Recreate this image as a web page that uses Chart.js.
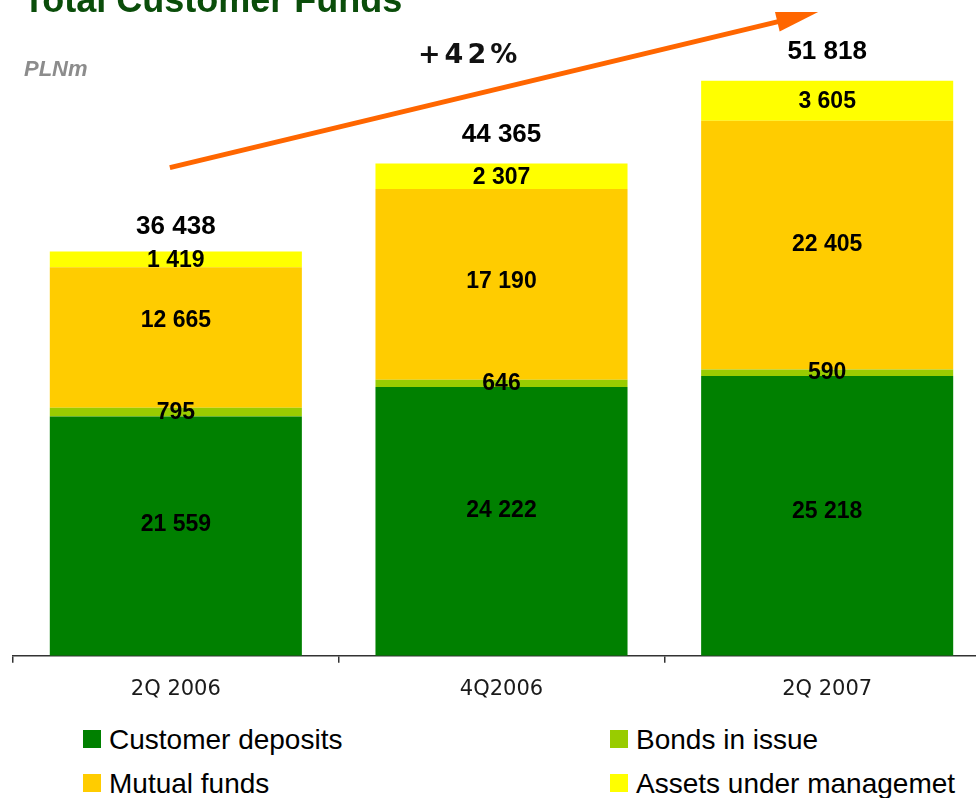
<!DOCTYPE html>
<html lang="en">
<head>
  <meta charset="UTF-8">
  <title>Total Customer Funds</title>
  <style>
    html, body {
      margin: 0;
      padding: 0;
      background: #fff;
      overflow: hidden;
      font-family: 'Liberation Sans', Arial, sans-serif;
    }
    .title {
      position: absolute;
      left: 23px;
      top: -18px;
      font-size: 36px;
      line-height: 1;
      font-weight: bold;
      color: #0a4d0a;
      white-space: nowrap;
    }
    .unit {
      position: absolute;
      left: 24px;
      top: 58px;
      font-size: 22px;
      line-height: 1;
      font-weight: bold;
      font-style: italic;
      color: #8c8c8c;
    }
    .growth {
      position: absolute;
      left: 418px;
      top: 40px;
      font-family: 'DejaVu Sans', Verdana, sans-serif;
      font-size: 27px;
      font-weight: bold;
      line-height: 1;
      letter-spacing: 4px;
      color: #111;
    }
    .chart-wrap {
      position: absolute;
      left: 0;
      top: 0;
      width: 1004px;
      height: 720px;
    }
    .legend-item {
      position: absolute;
      font-size: 28px;
      line-height: 1;
      color: #000;
      white-space: nowrap;
    }
    .legend-item span {
      position: absolute;
      width: 18px;
      height: 18px;
      left: -26px;
      top: 4px;
    }
  </style>
  <script src="https://cdn.jsdelivr.net/npm/chart.js"></script>
</head>
<body>
  <div class="chart-wrap"><canvas id="fundsChart"></canvas></div>
  <div class="title">Total Customer Funds</div>
  <div class="unit">PLNm</div>
  <div class="growth">+42%</div>
  <div id="legend"></div>

<script>
// data
const categories = ['2Q 2006', '4Q2006', '2Q 2007'];
const customerDeposits = [21559, 24222, 25218];
const bondsInIssue = [795, 646, 590];
const mutualFunds = [12665, 17190, 22405];
const assetsUnderMgmt = [1419, 2307, 3605];
const totals = [36438, 44365, 51818];

const seriesNames = ['Customer deposits', 'Bonds in issue', 'Mutual funds', 'Assets under managemet'];
const seriesColors = ['#008000', '#99cc00', '#ffcc00', '#ffff00'];

// labels in the original slide were nudged by hand a bit (px)
const labelNudge = [[-13, -12, -5], [-1, -1, -1], [-18, -4, -1], [0, 0, 0]];
const totalNudge = [4, 0, 0];

// legend in html, 2 columns
const legendPos = [[109, 726], [636, 726], [109, 770], [636, 770]];
const legendEl = document.getElementById('legend');
seriesNames.forEach((name, i) => {
  const d = document.createElement('div');
  d.className = 'legend-item';
  d.style.left = legendPos[i][0] + 'px';
  d.style.top = legendPos[i][1] + 'px';
  d.innerHTML = '<span style="background:' + seriesColors[i] + '"></span>' + name;
  legendEl.appendChild(d);
});

const fmt = v => String(v).replace(/\B(?=(\d{3})+(?!\d))/g, ' ');

const valueLabels = {
  id: 'valueLabels',
  afterDatasetsDraw(chart) {
    const ctx = chart.ctx;
    ctx.save();
    ctx.fillStyle = '#000';
    ctx.textAlign = 'center';
    ctx.textBaseline = 'middle';
    ctx.font = 'bold 23px "Liberation Sans", Arial, sans-serif';
    chart.data.datasets.forEach((ds, i) => {
      chart.getDatasetMeta(i).data.forEach((bar, j) => {
        ctx.fillText(fmt(ds.data[j]), bar.x, (bar.y + bar.base) / 2 + 1 + labelNudge[i][j]);
      });
    });
    ctx.font = 'bold 26px "Liberation Sans", Arial, sans-serif';
    const top = chart.getDatasetMeta(chart.data.datasets.length - 1).data;
    top.forEach((bar, j) => {
      ctx.fillText(fmt(totals[j]), bar.x, bar.y - 29 + totalNudge[j]);
    });
    ctx.restore();
  }
};

// growth arrow
const growthArrow = {
  id: 'growthArrow',
  afterDraw(chart) {
    const xs = chart.scales.x, ys = chart.scales.y;
    const x0 = xs.getPixelForValue(0) - 6, y0 = ys.getPixelForValue(44000);
    const x1 = xs.getPixelForValue(2) - 9, y1 = ys.getPixelForValue(58020);
    const len = Math.hypot(x1 - x0, y1 - y0);
    const ux = (x1 - x0) / len, uy = (y1 - y0) / len;
    const headLen = 42, headW = 10;
    const bx = x1 - ux * headLen, by = y1 - uy * headLen;
    const ctx = chart.ctx;
    ctx.save();
    ctx.strokeStyle = '#ff6600';
    ctx.fillStyle = '#ff6600';
    ctx.lineWidth = 5;
    ctx.beginPath();
    ctx.moveTo(x0, y0);
    ctx.lineTo(bx + ux * 2, by + uy * 2);
    ctx.stroke();
    ctx.beginPath();
    ctx.moveTo(x1, y1);
    ctx.lineTo(bx - uy * headW, by + ux * headW);
    ctx.lineTo(bx + uy * headW, by - ux * headW);
    ctx.closePath();
    ctx.fill();
    ctx.restore();
  }
};

const seriesData = [customerDeposits, bondsInIssue, mutualFunds, assetsUnderMgmt];

new Chart(document.getElementById('fundsChart'), {
  type: 'bar',
  data: {
    labels: categories,
    datasets: seriesData.map((d, i) => ({
      label: seriesNames[i],
      data: d,
      backgroundColor: seriesColors[i],
      borderWidth: 0,
      barPercentage: 0.774,
      categoryPercentage: 1
    }))
  },
  options: {
    responsive: true,
    maintainAspectRatio: false,
    animation: false,
    layout: { padding: { left: 13, right: 14, top: 0, bottom: 4 } },
    plugins: {
      legend: { display: false },
      tooltip: { enabled: false }
    },
    scales: {
      x: {
        stacked: true,
        grid: {
          display: true,
          drawOnChartArea: false,
          drawTicks: true,
          tickLength: 7,
          color: '#333',
          lineWidth: 1.5
        },
        border: { display: true, color: '#333', width: 1.5 },
        ticks: {
          color: '#1a1a1a',
          padding: 14,
          font: { family: '"DejaVu Sans", sans-serif', size: 21 }
        }
      },
      y: {
        stacked: true,
        display: false,
        min: 0,
        max: 59100
      }
    }
  },
  plugins: [valueLabels, growthArrow]
});
</script>
</body>
</html>
